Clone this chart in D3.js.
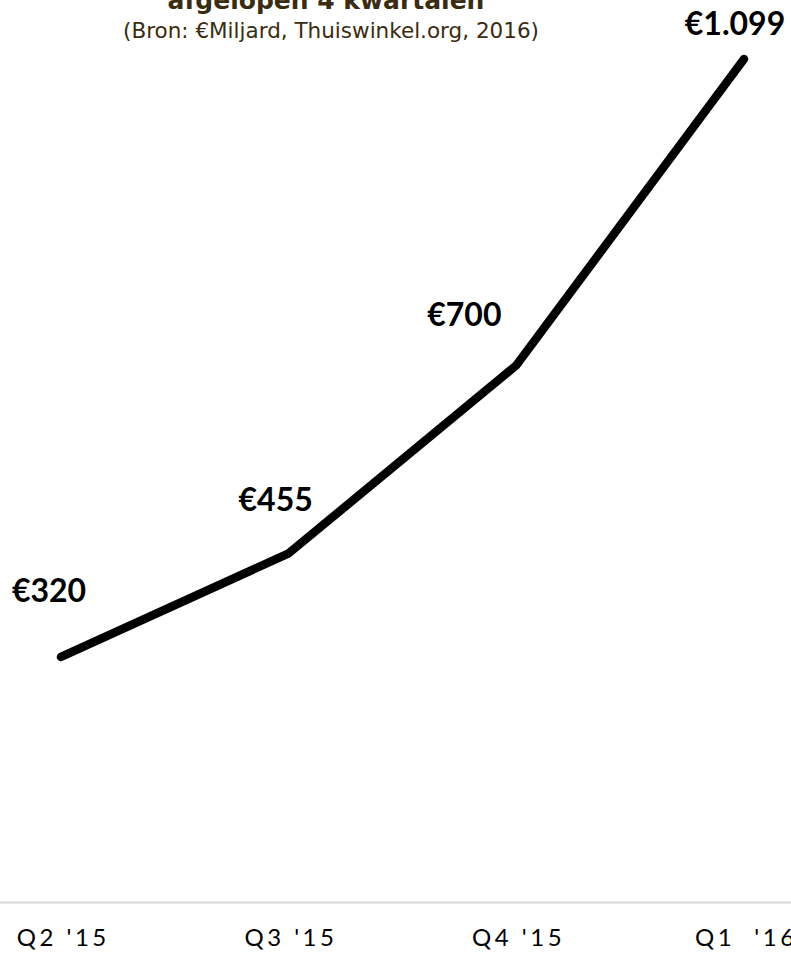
<!DOCTYPE html>
<html>
<head>
<meta charset="utf-8">
<script src="https://cdn.jsdelivr.net/npm/d3@7"></script>
<style>
  html, body { margin: 0; padding: 0; background: #fff; }
  svg { display: block; }
</style>
</head>
<body>
<svg id="chart" width="791" height="954"></svg>
<script>
// ---- data ----
const categories = ["Q2 '15", "Q3 '15", "Q4 '15", "Q1  '16"];
const values = [320, 455, 700, 1099];
const valueLabels = ["€320", "€455", "€700", "€1.099"];
const titleText = "afgelopen 4 kwartalen";
const subtitleText = "(Bron: €Miljard, Thuiswinkel.org, 2016)";

// ---- layout (not data) ----
const labelOffsets = [[-12, -55], [-13, -42], [-52, -39], [-9, -24]];

const W = 791, H = 954;
const svg = d3.select("#chart");

const x = d3.scalePoint().domain(categories).range([61, 744]);
const y = d3.scaleLinear().domain([0, 1099]).range([902.6, 59]);

// title (cut off at top)
svg.append("text")
  .attr("x", 326).attr("y", 9)
  .attr("text-anchor", "middle")
  .attr("font-family", "DejaVu Sans")
  .attr("font-weight", "bold")
  .attr("font-size", 25)
  .attr("fill", "#3a2c10")
  .text(titleText);

svg.append("text")
  .attr("x", 331).attr("y", 38)
  .attr("text-anchor", "middle")
  .attr("font-family", "DejaVu Sans")
  .attr("font-size", 21.5)
  .attr("fill", "#3a2c10")
  .text(subtitleText);

// baseline
svg.append("line")
  .attr("x1", 0).attr("x2", W)
  .attr("y1", y(0)).attr("y2", y(0))
  .attr("stroke", "#d9d9d9").attr("stroke-width", 2);

// x axis labels
const axis = svg.append("g")
  .attr("transform", `translate(0,${y(0)})`)
  .call(d3.axisBottom(x).tickSize(0).tickPadding(43));
axis.select(".domain").remove();
axis.selectAll("text")
  .attr("font-family", "Lato")
  .attr("font-size", 24)
  .attr("letter-spacing", "3.5px")
  .attr("dx", 1.75)
  .style("white-space", "pre")
  .attr("fill", "#000")
  .attr("dy", 0);

// line
const line = d3.line()
  .x((d, i) => x(categories[i]))
  .y(d => y(d));

svg.append("path")
  .datum(values)
  .attr("d", line)
  .attr("fill", "none")
  .attr("stroke", "#000")
  .attr("stroke-width", 8.5)
  .attr("stroke-linecap", "round")
  .attr("stroke-linejoin", "round");

// value labels
svg.selectAll("text.vlab")
  .data(values)
  .join("text")
  .attr("class", "vlab")
  .attr("x", (d, i) => x(categories[i]) + labelOffsets[i][0])
  .attr("y", (d, i) => y(d) + labelOffsets[i][1])
  .attr("text-anchor", "middle")
  .attr("font-family", "Lato")
  .attr("font-weight", "bold")
  .attr("font-size", 32)
  .attr("fill", "#000")
  .text((d, i) => valueLabels[i]);
</script>
</body>
</html>
